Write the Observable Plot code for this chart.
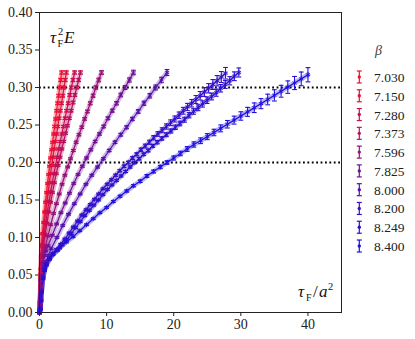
<!DOCTYPE html>
<html><head><meta charset="utf-8">
<script src="https://cdn.jsdelivr.net/npm/d3@7"></script>
<script src="https://cdn.jsdelivr.net/npm/@observablehq/plot@0.6"></script>
<style>body{margin:0;background:#fff} #chart{width:415px;height:339px}</style>
</head><body><div id="chart"></div>
<script>
// beta values (legend)
const betas = ["7.030","7.150","7.280","7.373","7.596","7.825","8.000","8.200","8.249","8.400"];
// each series: [tau_F/a^2, tau_F^2 E, error]
const b7030 = [[0,0,0],[0.05,0.004,0.0005],[0.1,0.015,0.0005],[0.15,0.035,0.0005],[0.2,0.058,0.0005],[0.3,0.088,0.001],[0.45,0.105,0.001],[0.6,0.120,0.001],[0.75,0.134,0.001],[0.9,0.147,0.001],[1.05,0.160,0.001],[1.2,0.172,0.001],[1.35,0.184,0.001],[1.5,0.195,0.001],[1.65,0.206,0.0012],[1.8,0.217,0.0012],[1.95,0.227,0.0013],[2.1,0.238,0.0014],[2.25,0.248,0.0015],[2.4,0.258,0.0016],[2.55,0.269,0.0017],[2.7,0.279,0.0018],[2.85,0.289,0.0019],[3.0,0.300,0.002],[3.15,0.310,0.0021],[3.3,0.320,0.0022]];
const b7150 = [[0,0,0],[0.05,0.004,0.0005],[0.1,0.014,0.0005],[0.15,0.032,0.0005],[0.2,0.052,0.0005],[0.27,0.075,0.001],[0.365,0.090,0.001],[0.55,0.105,0.001],[0.73,0.120,0.001],[0.91,0.134,0.001],[1.1,0.148,0.001],[1.28,0.160,0.001],[1.46,0.173,0.001],[1.64,0.185,0.001],[1.83,0.196,0.001],[2.01,0.207,0.0012],[2.19,0.218,0.0012],[2.37,0.228,0.0013],[2.56,0.238,0.0014],[2.74,0.248,0.0015],[2.92,0.259,0.0016],[3.1,0.269,0.0017],[3.29,0.279,0.0018],[3.47,0.289,0.0019],[3.65,0.300,0.002],[3.83,0.310,0.0021],[4.0,0.320,0.0022]];
const b7280 = [[0,0,0],[0.05,0.004,0.0005],[0.1,0.014,0.0005],[0.2,0.048,0.0005],[0.3,0.070,0.001],[0.475,0.090,0.001],[0.71,0.105,0.001],[0.95,0.120,0.001],[1.19,0.135,0.001],[1.43,0.148,0.001],[1.66,0.161,0.001],[1.9,0.173,0.001],[2.14,0.185,0.001],[2.38,0.196,0.001],[2.61,0.207,0.0012],[2.85,0.218,0.0012],[3.09,0.228,0.0013],[3.33,0.238,0.0014],[3.56,0.248,0.0015],[3.8,0.259,0.0016],[4.04,0.269,0.0017],[4.28,0.279,0.0018],[4.51,0.290,0.0019],[4.75,0.300,0.002],[4.99,0.310,0.0021],[5.23,0.320,0.0022]];
const b7373 = [[0,0,0],[0.05,0.004,0.0005],[0.1,0.013,0.0005],[0.2,0.045,0.0005],[0.3,0.064,0.001],[0.4,0.078,0.001],[0.555,0.088,0.001],[0.83,0.104,0.001],[1.11,0.119,0.001],[1.39,0.134,0.001],[1.67,0.147,0.001],[1.94,0.160,0.001],[2.22,0.173,0.001],[2.5,0.185,0.001],[2.78,0.196,0.001],[3.05,0.207,0.0012],[3.33,0.218,0.0012],[3.61,0.228,0.0013],[3.89,0.239,0.0014],[4.16,0.249,0.0015],[4.44,0.259,0.0016],[4.72,0.269,0.0017],[5.0,0.280,0.0018],[5.27,0.290,0.0019],[5.55,0.300,0.002],[5.83,0.310,0.0021],[6.1,0.320,0.0022]];
const b7596 = [[0,0,0],[0.1,0.012,0.0005],[0.2,0.042,0.0005],[0.3,0.058,0.001],[0.5,0.074,0.001],[0.84,0.087,0.001],[1.26,0.102,0.001],[1.68,0.117,0.001],[2.1,0.132,0.001],[2.52,0.145,0.001],[2.94,0.158,0.001],[3.36,0.171,0.001],[3.78,0.183,0.001],[4.2,0.194,0.001],[4.62,0.205,0.0012],[5.04,0.216,0.0013],[5.46,0.227,0.0014],[5.88,0.237,0.0015],[6.3,0.247,0.0016],[6.72,0.258,0.0017],[7.14,0.268,0.0018],[7.56,0.279,0.002],[7.98,0.289,0.0021],[8.4,0.300,0.0022],[8.82,0.310,0.0024],[9.24,0.320,0.0025]];
const b7825 = [[0,0,0],[0.1,0.010,0.0005],[0.2,0.035,0.0005],[0.3,0.050,0.001],[0.5,0.066,0.001],[0.75,0.076,0.001],[0.96,0.082,0.001],[1.28,0.089,0.001],[1.91,0.103,0.001],[2.55,0.118,0.001],[3.19,0.133,0.001],[3.83,0.146,0.001],[4.46,0.159,0.001],[5.1,0.172,0.001],[5.74,0.184,0.001],[6.38,0.195,0.0012],[7.01,0.206,0.0013],[7.65,0.217,0.0014],[8.29,0.228,0.0015],[8.93,0.238,0.0016],[9.56,0.248,0.0018],[10.2,0.259,0.0019],[10.84,0.269,0.002],[11.48,0.279,0.0022],[12.11,0.290,0.0024],[12.75,0.300,0.0026],[13.39,0.310,0.0028],[14.0,0.320,0.003]];
const b8000 = [[0,0,0],[0.1,0.005,0.0005],[0.2,0.018,0.0005],[0.3,0.031,0.0005],[0.5,0.049,0.001],[0.75,0.061,0.001],[1,0.068,0.001],[1.3,0.076,0.001],[1.73,0.085,0.001],[2.6,0.100,0.001],[3.46,0.116,0.001],[4.33,0.131,0.001],[5.19,0.145,0.001],[6.06,0.158,0.001],[6.92,0.171,0.001],[7.79,0.183,0.0012],[8.65,0.194,0.0013],[9.52,0.205,0.0014],[10.38,0.216,0.0015],[11.25,0.227,0.0017],[12.11,0.237,0.0019],[12.98,0.247,0.002],[13.84,0.258,0.0022],[14.71,0.268,0.0025],[15.57,0.279,0.0028],[16.44,0.289,0.003],[17.3,0.300,0.0033],[18.17,0.310,0.0036],[19.0,0.320,0.004]];
const b8200 = [[0,0,0],[0.1,0.004,0.0005],[0.2,0.016,0.0005],[0.3,0.028,0.0005],[0.5,0.046,0.001],[0.75,0.057,0.001],[1,0.064,0.001],[1.5,0.072,0.001],[2,0.079,0.001],[2.52,0.084,0.001],[3.15,0.091,0.001],[3.78,0.098,0.001],[4.41,0.106,0.001],[5.04,0.114,0.001],[5.67,0.122,0.001],[6.3,0.130,0.001],[6.93,0.137,0.001],[7.56,0.144,0.001],[8.19,0.151,0.001],[8.82,0.158,0.001],[9.45,0.165,0.001],[10.08,0.171,0.0012],[10.71,0.177,0.0013],[11.34,0.183,0.0014],[11.97,0.189,0.0015],[12.6,0.195,0.0017],[13.23,0.200,0.0018],[13.86,0.206,0.002],[14.49,0.211,0.0021],[15.12,0.217,0.0023],[15.75,0.222,0.0025],[16.38,0.227,0.0027],[17.01,0.233,0.0029],[17.64,0.238,0.0031],[18.27,0.243,0.0033],[18.9,0.248,0.0035],[19.53,0.253,0.0038],[20.16,0.258,0.004],[20.79,0.263,0.0043],[21.42,0.269,0.0045],[22.05,0.274,0.0048],[22.68,0.279,0.005],[23.31,0.284,0.0053],[23.94,0.289,0.0056],[24.57,0.294,0.0059],[25.2,0.299,0.0062],[25.83,0.304,0.0066],[26.46,0.309,0.0069],[27.09,0.314,0.0073],[27.72,0.319,0.0077]];
const b8249 = [[0,0,0],[0.1,0.004,0.0005],[0.2,0.016,0.0005],[0.3,0.028,0.0005],[0.5,0.046,0.001],[0.75,0.057,0.001],[1,0.064,0.001],[1.5,0.072,0.001],[2,0.078,0.001],[2.7,0.083,0.001],[3.38,0.090,0.001],[4.05,0.097,0.001],[4.73,0.105,0.001],[5.4,0.113,0.001],[6.08,0.121,0.001],[6.75,0.129,0.001],[7.43,0.136,0.001],[8.1,0.143,0.001],[8.78,0.150,0.001],[9.45,0.157,0.001],[10.13,0.164,0.001],[10.8,0.170,0.0011],[11.48,0.176,0.0012],[12.15,0.182,0.0013],[12.83,0.188,0.0014],[13.5,0.194,0.0015],[14.18,0.200,0.0016],[14.85,0.205,0.0017],[15.53,0.211,0.0018],[16.2,0.216,0.0019],[16.88,0.222,0.002],[17.55,0.227,0.0022],[18.23,0.232,0.0023],[18.9,0.237,0.0025],[19.58,0.242,0.0027],[20.25,0.247,0.0029],[20.93,0.252,0.0031],[21.6,0.257,0.0033],[22.28,0.263,0.0035],[22.95,0.268,0.0037],[23.63,0.273,0.0039],[24.3,0.278,0.0041],[24.98,0.283,0.0043],[25.65,0.288,0.0045],[26.33,0.293,0.0047],[27.0,0.299,0.005],[27.68,0.304,0.0052],[28.35,0.309,0.0055],[29.03,0.315,0.0058],[29.7,0.320,0.006]];
const b8400 = [[0,0,0],[0.1,0.004,0.0005],[0.2,0.015,0.0005],[0.3,0.027,0.0005],[0.5,0.045,0.001],[0.75,0.056,0.001],[1,0.063,0.001],[1.5,0.071,0.001],[2,0.077,0.001],[3,0.086,0.001],[4,0.094,0.001],[5,0.101,0.001],[6,0.109,0.001],[7,0.117,0.001],[8,0.125,0.001],[9,0.133,0.001],[10,0.140,0.001],[11,0.148,0.0012],[12,0.155,0.0013],[13,0.162,0.0014],[14,0.169,0.0015],[15,0.175,0.0017],[16,0.182,0.0019],[17,0.188,0.002],[18,0.194,0.0022],[19,0.200,0.0024],[20,0.206,0.0027],[21,0.212,0.003],[22,0.218,0.0032],[23,0.224,0.0035],[24,0.229,0.0038],[25,0.2345,0.004],[26,0.240,0.0043],[27,0.2455,0.0046],[28,0.251,0.005],[29,0.2565,0.0053],[30,0.262,0.0056],[31,0.2675,0.006],[32,0.273,0.0064],[33,0.2785,0.0067],[34,0.284,0.0071],[35,0.2895,0.0075],[36,0.295,0.0079],[37,0.3005,0.0083],[38,0.306,0.0087],[39,0.3115,0.0091],[40,0.317,0.0095]];
const refLines = [0.2, 0.3];
const xTicks = [0,10,20,30,40];
const yTicks = [0,0.05,0.1,0.15,0.2,0.25,0.3,0.35,0.4];

const series = [b7030,b7150,b7280,b7373,b7596,b7825,b8000,b8200,b8249,b8400];
const palette = ["#f01030","#dd1040","#c81050","#b9105c","#961078","#701096","#5410ad","#3510c6","#2c10cd","#2010e0"];

const data = series.flatMap((s, i) => s.map(([t, e, err]) => ({beta: betas[i], t, e, err})));

const cap = {draw(ctx, size) { const w = Math.sqrt(size / Math.PI); ctx.moveTo(-w, 0); ctx.lineTo(w, 0); }};
const FONT = "Liberation Serif, serif";

const chart = Plot.plot({
  width: 415, height: 339,
  marginLeft: 39, marginRight: 74, marginTop: 12, marginBottom: 27,
  style: {fontFamily: FONT, fontSize: "14px", color: "#222", background: "white"},
  x: {domain: [0, 45], ticks: xTicks, tickSize: 4, tickPadding: 3, label: null},
  y: {domain: [0, 0.4], ticks: yTicks, tickSize: 4, tickPadding: 3, tickFormat: d3.format(".2f"), label: null},
  color: {domain: betas, range: palette},
  marks: [
    Plot.ruleY(refLines, {stroke: "black", strokeWidth: 1.8, strokeDasharray: "1.8,2.6"}),
    Plot.line(data, {x: "t", y: "e", z: "beta", stroke: "beta", strokeWidth: 5, strokeOpacity: 0.3}),
    Plot.line(data, {x: "t", y: "e", z: "beta", stroke: "beta", strokeWidth: 1.2}),
    Plot.ruleX(data, {x: "t", y1: d => d.e - d.err, y2: d => d.e + d.err, stroke: "beta", strokeWidth: 1.1}),
    Plot.dot(data, {x: "t", y: d => d.e + d.err, symbol: cap, r: 2.4, stroke: "beta", strokeWidth: 1.1, fill: "none"}),
    Plot.dot(data, {x: "t", y: d => d.e - d.err, symbol: cap, r: 2.4, stroke: "beta", strokeWidth: 1.1, fill: "none"}),
    Plot.dot(data, {x: "t", y: "e", symbol: "asterisk", r: 2.2, stroke: "beta", strokeWidth: 0.9}),
    Plot.frame({stroke: "#222", strokeWidth: 1})
  ]
});
document.getElementById("chart").appendChild(chart);

const svg = d3.select(chart);
const X = chart.scale("x"), Y = chart.scale("y");
const x0 = X.range[0], x1 = X.range[1], yTop = Y.range[1], yBot = Y.range[0];
function t(x, y, s, size, italic) {
  svg.append("text").attr("x", x).attr("y", y).attr("font-family", FONT)
    .attr("text-anchor", "start")
    .attr("font-size", size).attr("font-style", italic ? "italic" : "normal")
    .attr("fill", "#111").text(s);
}
// y label (top-left inside)
t(x0 + 11, yTop + 31, "τ", 17, true);
t(x0 + 19, yTop + 23, "2", 10.5, false);
t(x0 + 18.5, yTop + 35, "F", 10, false);
t(x0 + 25, yTop + 31, "E", 17, true);
// x label (bottom-right inside)
t(x1 - 43, yBot - 15, "τ", 17, true);
t(x1 - 35, yBot - 11, "F", 10, false);
t(x1 - 28, yBot - 15, "/", 17, false);
t(x1 - 22, yBot - 15, "a", 17, true);
t(x1 - 13, yBot - 22, "2", 10.5, false);

// legend
const lg = svg.append("g").attr("text-anchor", "start");
lg.append("text").attr("x", 375).attr("y", 55).attr("font-family", FONT).attr("font-size", 14)
  .attr("font-style", "italic").attr("fill", "#444").text("β");
betas.forEach((b, i) => {
  const cy = 77 + i * 18.78, c = palette[i], cx = 359.3;
  lg.append("line").attr("x1", cx).attr("x2", cx).attr("y1", cy - 6).attr("y2", cy + 6).attr("stroke", c).attr("stroke-width", 1.2);
  lg.append("line").attr("x1", cx - 2.5).attr("x2", cx + 2.5).attr("y1", cy - 6).attr("y2", cy - 6).attr("stroke", c).attr("stroke-width", 1.2);
  lg.append("line").attr("x1", cx - 2.5).attr("x2", cx + 2.5).attr("y1", cy + 6).attr("y2", cy + 6).attr("stroke", c).attr("stroke-width", 1.2);
  lg.append("circle").attr("cx", cx).attr("cy", cy).attr("r", 1.7).attr("fill", c);
  lg.append("text").attr("x", 374).attr("y", cy + 5).attr("font-family", FONT).attr("font-size", 13.5).attr("fill", "#222").text(b);
});
</script>
</body></html>
